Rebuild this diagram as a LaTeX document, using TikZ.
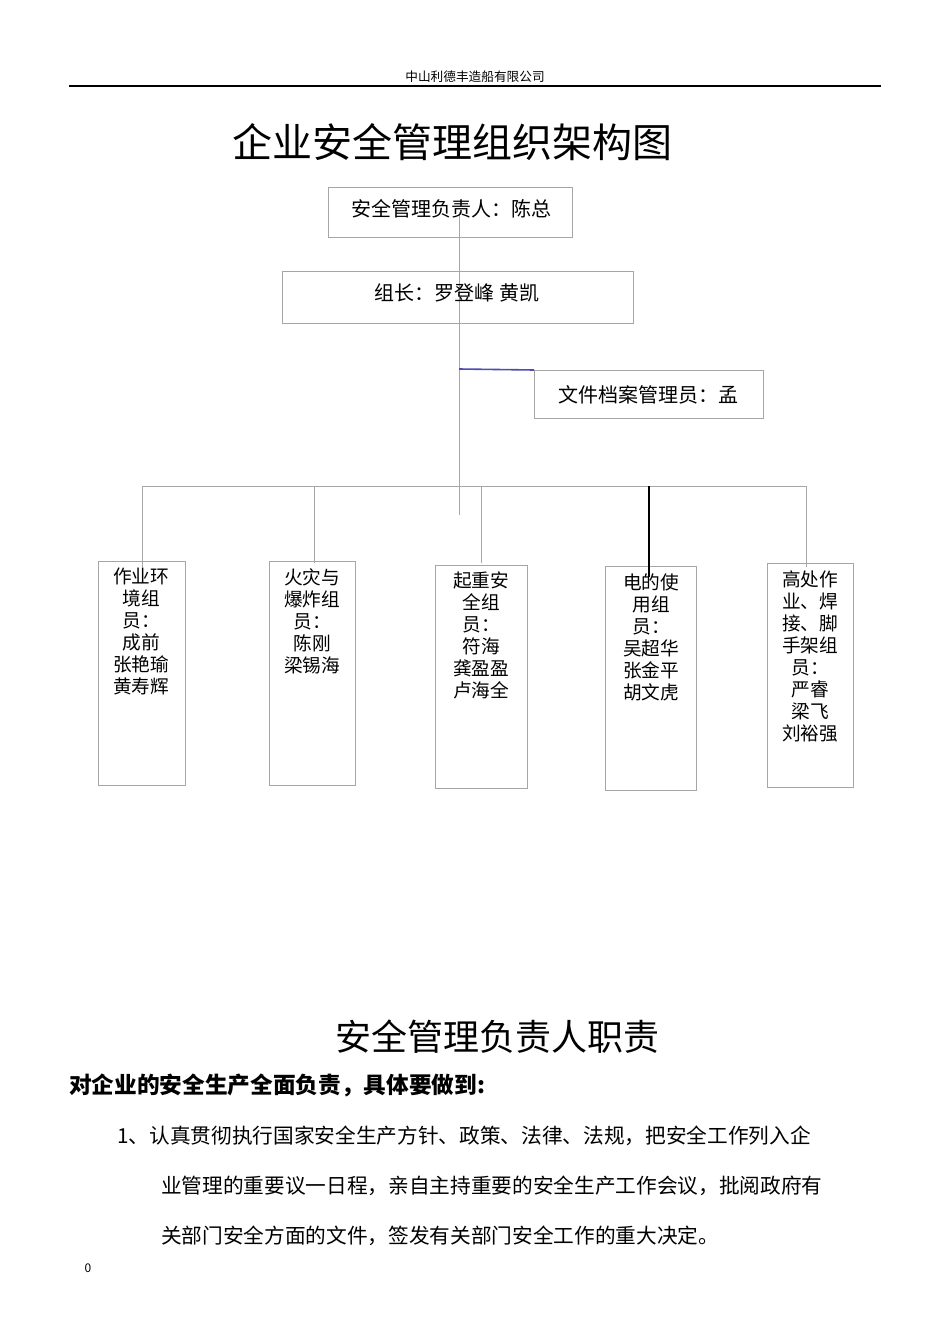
\documentclass[tikz,border=0pt]{standalone}
\usepackage{fontspec}
\setmainfont{Noto Sans CJK SC}
\begin{document}
\begin{tikzpicture}[x=0.75pt,y=-0.75pt,
  bx/.style={draw=black!35,line width=0.6pt},
  ln/.style={draw=black!35,line width=0.5pt},
  tx/.style={font=\fontsize{14}{16.5}\selectfont,align=center,anchor=north,inner sep=0}]
\useasboundingbox (0,0) rectangle (950,1344);
\node (hdr) at (475,77) {\fontsize{9.5}{11}\selectfont 中山利德丰造船有限公司};
\coordinate (r1) at (69,86); \coordinate (r2) at (881,86);
\draw[line width=0.9pt] (r1) -- (r2);
\node (title) at (452,142) {\fontsize{30}{34}\selectfont 企业安全管理组织架构图};
% connectors
\coordinate (c0) at (459,212); \coordinate (c1) at (459,515);
\draw[ln] (c0) -- (c1);
\coordinate (b0) at (459,369);
\node[bx,minimum width=229*0.75pt,minimum height=48*0.75pt,anchor=north west] (doc) at (534,370) {};
\node at (doc) {\fontsize{15}{18}\selectfont 文件档案管理员：孟};
\draw[draw=blue!40!gray,line width=1.2pt] (b0) -- (doc.north west);
\coordinate (h1) at (142,486); \coordinate (h2) at (806,486);
\draw[ln] (h1) -- (h2);
\node[bx,minimum width=244*0.75pt,minimum height=50*0.75pt,anchor=north west,fill=white,fill opacity=0] (top) at (328,187) {};
\node at (451,209) {\fontsize{15}{18}\selectfont 安全管理负责人：陈总};
\node[bx,minimum width=351*0.75pt,minimum height=52*0.75pt,anchor=north west] (lead) at (282,271) {};
\node at (457,293) {\fontsize{15}{18}\selectfont 组长：罗登峰 黄凯};
% group boxes
\node[bx,minimum width=87*0.75pt,minimum height=224*0.75pt,anchor=north west] (g1) at (98,561) {};
\node[bx,minimum width=86*0.75pt,minimum height=224*0.75pt,anchor=north west] (g2) at (269,561) {};
\node[bx,minimum width=92*0.75pt,minimum height=223*0.75pt,anchor=north west] (g3) at (435,565) {};
\node[bx,minimum width=91*0.75pt,minimum height=224*0.75pt,anchor=north west] (g4) at (605,566) {};
\node[bx,minimum width=86*0.75pt,minimum height=224*0.75pt,anchor=north west] (g5) at (767,563) {};
\draw[ln] (142,486) -- (142,567);
\draw[ln] (314,486) -- (314,563);
\draw[ln] (481,486) -- (481,563);
\draw[ln] (806,486) -- (806,567);
\draw[line width=1.5pt] (649,486) -- (649,577);
\node[tx] at (141,568) {作业环\\境组\\员：\\成前\\张艳瑜\\黄寿辉};
\node[tx] at (312,568) {火灾与\\爆炸组\\员：\\陈刚\\梁锡海};
\node[tx] at (481,572) {起重安\\全组\\员：\\符海\\龚盈盈\\卢海全};
\node[tx] at (651,573) {电的使\\用组\\员：\\吴超华\\张金平\\胡文虎};
\node[tx] at (810,570) {高处作\\业、焊\\接、脚\\手架组\\员：\\严睿\\梁飞\\刘裕强};
% lower text
\node (sub) at (497,1037) {\fontsize{27}{32}\selectfont 安全管理负责人职责};
\node[anchor=west,inner sep=0] (bold) at (69,1085) {\fontsize{17}{20}\selectfont\bfseries 对企业的安全生产全面负责，具体要做到:};
\node[anchor=west,inner sep=0] (p1) at (117,1136) {\fontsize{15.5}{18}\selectfont 1、认真贯彻执行国家安全生产方针、政策、法律、法规，把安全工作列入企};
\node[anchor=west,inner sep=0] (p2) at (161,1186) {\fontsize{15.5}{18}\selectfont 业管理的重要议一日程，亲自主持重要的安全生产工作会议，批阅政府有};
\node[anchor=west,inner sep=0] (p3) at (161,1236) {\fontsize{15.5}{18}\selectfont 关部门安全方面的文件，签发有关部门安全工作的重大决定。};
\node (pg) at (88,1268) {\fontsize{9}{11}\selectfont 0};
\end{tikzpicture}
\end{document}
